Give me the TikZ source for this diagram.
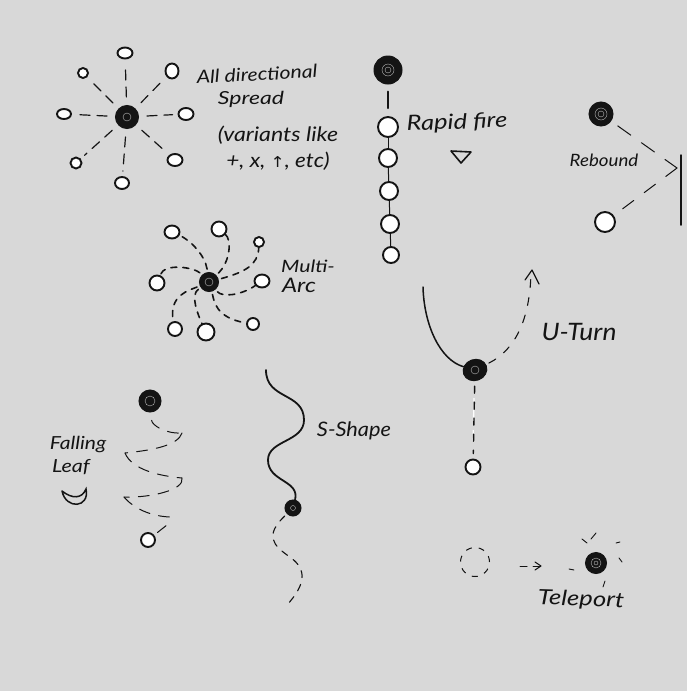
\documentclass[tikz,border=0pt]{standalone}
\usepackage{graphicx}
\usepackage{fontspec}
\setmainfont{Lato}
\newfontfamily\symfont{DejaVu Sans}
\usetikzlibrary{shapes.geometric}
\definecolor{paper}{HTML}{D8D8D8}
\definecolor{ink}{HTML}{141414}
\tikzset{
  x=1pt,y=-1pt,
  core/.style={circle,fill=ink,draw=ink,line width=1pt,inner sep=0pt,minimum size=#1},
  shot/.style={ellipse,fill=white,draw=ink,line width=1.9pt,inner sep=0pt,minimum size=#1},
  spoke/.style={draw=ink,line width=1.2pt,dash pattern=on 10pt off 7pt,shorten <=8pt,shorten >=5pt,line cap=round},
  arcline/.style={draw=ink,line width=1.6pt,dash pattern=on 6pt off 6pt,line cap=round,shorten <=3pt},
  thinline/.style={draw=ink,line width=1pt,dash pattern=on 11pt off 9pt,line cap=round},
  solidline/.style={draw=ink,line width=1.5pt,line cap=round},
  hand/.style={text=ink,inner sep=0pt,anchor=center},
}
\newcommand{\ringmark}[2]{\draw[gray!55,line width=.4pt] (#1) circle (#2);}
\newcommand{\hs}[3]{\scalebox{#2}[1]{\fontsize{#1}{#1}\selectfont\itshape #3}}
\begin{document}
\begin{tikzpicture}
\path[use as bounding box,fill=paper] (0,0) rectangle (687,691);

% All directional
\node[core=23pt] (a) at (127,117) {};
\node[shot=11pt,minimum width=15pt] (a1) at (125,53) {};
\node[shot=10pt] (a2) at (83,73) {};
\node[shot=13pt,minimum height=15pt] (a3) at (172,71) {};
\node[shot=10pt,minimum width=14pt] (a4) at (64,114) {};
\node[shot=12pt,minimum width=15pt] (a5) at (186,114) {};
\node[shot=11pt] (a6) at (76,163) {};
\node[shot=12pt,minimum width=15pt] (a7) at (175,160) {};
\node[shot=12pt,minimum width=14pt] (a8) at (122,183) {};
\foreach \n in {a1,a2,a3,a4,a5,a6,a7,a8} \draw[spoke] (a) -- (\n);
\ringmark{127,117}{4}
\node[hand,rotate=3] (t1) at (257,74) {\hs{18}{1.18}{All directional}};
\node[hand] (t2) at (251,99) {\hs{18}{1.28}{Spread}};
\node[hand] (t3) at (278,135) {\hs{20}{1.16}{(variants like}};
\node[hand] (t4) at (278,161) {\hs{20}{1.13}{+, x, {\symfont\fontsize{15}{15}\selectfont ↑}, etc)}};

% Multi arc
\node[core=19pt] (m) at (209,282) {};
\node[shot=13pt,minimum width=15pt] (m1) at (172,232) {};
\node[shot=15pt] (m2) at (219,229) {};
\node[shot=10pt] (m3) at (259,242) {};
\node[shot=13pt,minimum width=15pt] (m4) at (262,281) {};
\node[shot=12pt] (m5) at (253,324) {};
\node[shot=17pt] (m6) at (206,332) {};
\node[shot=14pt] (m7) at (175,329) {};
\node[shot=15pt] (m8) at (157,283) {};
\draw[arcline] (m) .. controls (205,255) and (190,240) .. (m1);
\draw[arcline] (m) .. controls (230,262) and (232,240) .. (m2);
\draw[arcline] (m) .. controls (245,272) and (258,265) .. (m3);
\draw[arcline] (m) .. controls (222,297) and (240,296) .. (m4);
\draw[arcline] (m) .. controls (214,300) and (215,318) .. (m5);
\draw[arcline] (m) .. controls (190,295) and (198,315) .. (m6);
\draw[arcline] (m) .. controls (190,290) and (168,295) .. (m7);
\draw[arcline] (m) .. controls (195,268) and (165,262) .. (m8);
\ringmark{209,282}{4}
\node[hand] (t5) at (308,266) {\hs{17}{1.25}{Multi-}};
\node[hand] (t6) at (299,285) {\hs{20}{1.2}{Arc}};

% Rapid fire
\node[core=28pt] (r) at (388,70) {};
\node[shot=20pt] (r1) at (388,127) {};
\node[shot=18pt] (r2) at (388,158) {};
\node[shot=18pt] (r3) at (389,191) {};
\node[shot=18pt] (r4) at (390,224) {};
\node[shot=16pt] (r5) at (391,255) {};
\draw[solidline,line width=2pt,shorten <=7pt,shorten >=8pt] (r) -- (r1);
\draw[solidline,line width=1pt] (r1) -- (r2);
\draw[solidline,line width=1pt] (r2) -- (r3);
\draw[solidline,line width=1pt] (r3) -- (r4);
\draw[solidline,line width=1pt] (r4) -- (r5);
\ringmark{388,70}{6}
\ringmark{388,70}{3}
\node[hand,rotate=2] (t7) at (457,123) {\hs{21}{1.22}{Rapid fire}};
\draw[draw=ink,line width=1.6pt,line join=round] (451,151) -- (471,152) -- (461,163) -- cycle;

% Rebound
\node[core=24pt] (b) at (601,114) {};
\node[shot=20pt] (b1) at (605,222) {};
\coordinate (hit) at (677,168);
\draw[thinline,dash pattern=on 16pt off 13pt,shorten <=8pt] (b) -- (hit);
\draw[thinline,dash pattern=on 14pt off 13pt,shorten >=3pt] (hit) -- (b1);
\coordinate (w1) at (681,155);
\coordinate (w2) at (681,225);
\draw[solidline] (w1) -- (w2);
\ringmark{601,114}{6}
\ringmark{601,114}{3}
\node[hand] (t8) at (604,160) {\hs{17}{1.1}{Rebound}};

% U-turn
\node[core=24pt,rotate=20,ellipse,minimum height=21pt] (u) at (475,370) {};
\node[shot=15pt] (u1) at (473,467) {};
\coordinate (us) at (423,287);
\coordinate (ue) at (531,272);
\draw[solidline] (us) .. controls (424,325) and (440,360) .. (u);
\draw[arcline,line width=1.1pt,dash pattern=on 8pt off 10pt] (u) .. controls (515,350) and (530,320) .. (ue);
\draw[draw=ink,line width=1.2pt,line cap=round,line join=round] (525,280) -- (532,270) -- (539,284);
\draw[draw=white,line width=1.3pt,dash pattern=on 11pt off 9pt,dash phase=-12pt] (474,398) -- (473,445);
\draw[arcline,line width=1.4pt,dash pattern=on 7pt off 9pt,shorten <=5pt,shorten >=5pt] (u) -- (u1);
\ringmark{475,370}{4}
\node[hand] (t9) at (579,332) {\hs{24}{1.1}{U-Turn}};

% S-shape
\node[core=16pt] (s) at (293,508) {};
\coordinate (ss) at (266,370);
\coordinate (se) at (287,605);
\draw[solidline,line width=1.8pt] (ss) .. controls (266,400) and (304,392) .. (304,420)
  .. controls (304,442) and (268,440) .. (268,460)
  .. controls (268,482) and (300,480) .. (s);
\draw[arcline,line width=1.1pt,dash pattern=on 7pt off 7pt,shorten <=3pt] (s) .. controls (265,535) and (272,545) .. (290,557)
  .. controls (308,570) and (305,585) .. (se);
\ringmark{293,508}{2.5}
\node[hand] (t10) at (354,431) {\hs{20}{1.09}{S-Shape}};

% Falling leaf
\node[core=22pt] (f) at (150,401) {};
\node[shot=14pt] (f1) at (148,540) {};
\coordinate (l1) at (182,433);
\coordinate (l2) at (125,453);
\coordinate (l3) at (182,478);
\coordinate (l4) at (124,497);
\coordinate (l5) at (177,517);
\draw[thinline,shorten <=8pt] (f) .. controls (152,425) and (165,434) .. (l1);
\draw[thinline] (l1) .. controls (178,445) and (155,450) .. (l2);
\draw[thinline] (l2) .. controls (132,470) and (160,476) .. (l3);
\draw[thinline] (l3) .. controls (185,490) and (150,498) .. (l4);
\draw[thinline] (l4) .. controls (135,510) and (155,518) .. (l5);
\draw[thinline,shorten <=14pt,shorten >=3pt] (l5) -- (f1);
\ringmark{150,401}{5}
\node[hand] (t11) at (78,445) {\hs{18}{1.17}{Falling}};
\node[hand] (t12) at (71,467) {\hs{18}{1.2}{Leaf}};
\draw[draw=ink,line width=1.5pt,line cap=round] (62,491) .. controls (66,510) and (90,508) .. (86,489) .. controls (82,499) and (72,499) .. (62,491);

% Teleport
\node[circle,draw=ink,line width=1pt,dash pattern=on 6pt off 7pt,inner sep=0pt,minimum size=29pt] (g) at (475,562) {};
\node[core=21pt] (p) at (596,563) {};
\coordinate (d1) at (520,566);
\coordinate (d2) at (541,566);
\draw[thinline,dash pattern=on 7pt off 6pt] (d1) -- (d2);
\draw[draw=ink,line width=1pt,line cap=round,line join=round] (535,562) -- (541,566) -- (535,570);
\foreach \xa/\ya/\xb/\yb in {582/539/587/543, 596/533/591/539, 616/543/620/542, 619/558/622/562, 569/569/574/570, 605/581/603/587}
  \draw[draw=ink,line width=.9pt,line cap=round] (\xa,\ya) -- (\xb,\yb);
\ringmark{596,563}{5}
\ringmark{596,563}{2}
\node[hand,rotate=-2] (t13) at (581,600) {\hs{21}{1.22}{Teleport}};
\end{tikzpicture}
\end{document}
